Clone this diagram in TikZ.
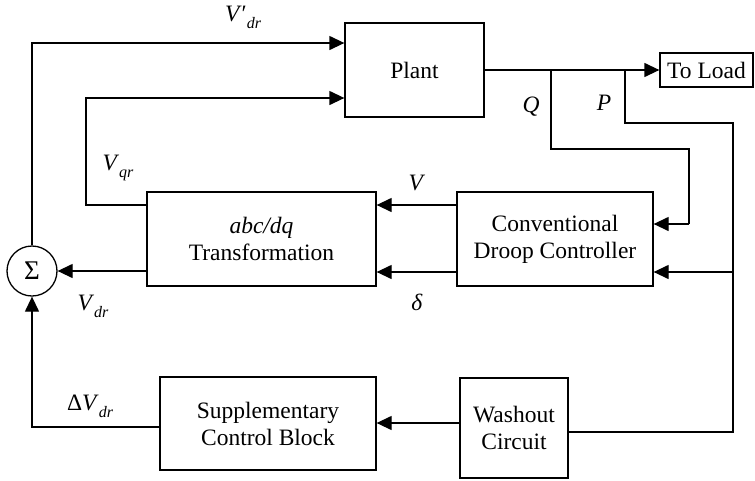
\documentclass[tikz,border=0pt]{standalone}
\usepackage{fontspec}
\setmainfont{Liberation Serif}
\usetikzlibrary{arrows.meta}
\newcommand\sbs[1]{\raisebox{-0.3em}{\fontsize{16}{16}\selectfont\itshape #1}}
\begin{document}
\begin{tikzpicture}[x=1pt,y=-1pt,
  every node/.style={font=\fontsize{23.5}{27}\selectfont},
  blk/.style={draw,line width=1.3pt,align=center,inner sep=0pt},
  conn/.style={line width=1.3pt},
  arr/.style={conn,-{Triangle[length=15pt,width=14pt]}},
  lbl/.style={inner sep=0pt}]
\useasboundingbox (0,0) rectangle (755,480);
% blocks
\node[blk,minimum width=139pt,minimum height=94pt] (plant) at (414.5,70) {Plant};
\node[blk,minimum width=93pt,minimum height=34pt] (load) at (706.5,70) {To Load};
\node[blk,minimum width=229pt,minimum height=94pt] (abc) at (261.5,239) {\textit{abc/dq}\\Transformation};
\node[blk,minimum width=196pt,minimum height=94pt] (droop) at (555,239) {Conventional\\Droop Controller};
\node[blk,minimum width=216pt,minimum height=93pt] (supp) at (268,423.5) {Supplementary\\Control Block};
\node[blk,minimum width=108pt,minimum height=100pt] (wash) at (514,428) {Washout\\Circuit};
\node[draw,circle,line width=1.3pt,minimum size=50pt,inner sep=0pt,font=\fontsize{27}{27}\selectfont] (sig) at (32,271) {Σ};
% connectors
\coordinate (qb) at (551,70);
\coordinate (pb) at (625,70);
\coordinate (pj) at (733,272);
\draw[arr] (plant.east) -- (load.west);
\draw[conn] (qb) -- (551,149) -| (689,224);
\draw[arr] (689,224) -- (droop.east |- 0,224);
\draw[conn] (pb) -- (625,123) -| (733,432) -- (wash.east |- 0,432);
\draw[arr] (pj) -- (droop.east |- pj);
\draw[arr] (droop.west |- 0,205) -- (abc.east |- 0,205);
\draw[arr] (droop.west |- 0,272) -- (abc.east |- 0,272);
\draw[arr] (abc.west |- sig.east) -- (sig.east);
\draw[arr] (abc.west |- 0,205) -- (86,205) -- (86,98) -- (plant.west |- 0,98);
\draw[arr] (sig.north) -- (32,43) -- (plant.west |- 0,43);
\draw[arr] (wash.west |- 0,423) -- (supp.east |- 0,423);
\draw[arr] (supp.west |- 0,427) -- (32,427) -- (sig.south);
% labels
\node[lbl] (lvdp) at (243,17) {\textit{V}′\sbs{dr}};
\node[lbl] (lvqr) at (118,168) {\textit{V}\sbs{qr}};
\node[lbl] (lq) at (531,107) {\textit{Q}};
\node[lbl] (lp) at (604,103) {\textit{P}};
\node[lbl] (lv) at (417,183) {\textit{V}};
\node[lbl] (ld) at (417,302) {\textit{δ}};
\node[lbl] (lvdr) at (93,306) {\textit{V}\sbs{dr}};
\node[lbl] (ldvdr) at (90,406) {Δ\textit{V}\sbs{dr}};
\end{tikzpicture}
\end{document}
